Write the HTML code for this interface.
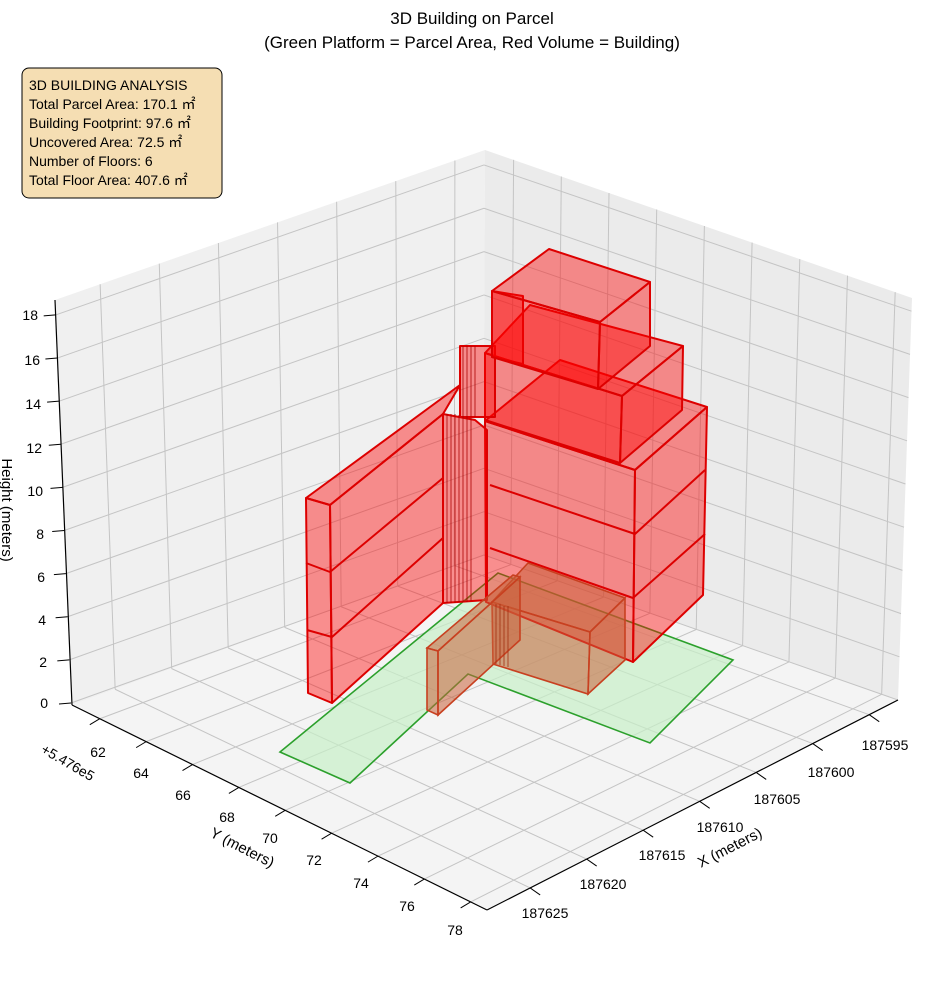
<!DOCTYPE html>
<html><head><meta charset="utf-8"><style>
html,body{margin:0;padding:0;background:#fff;}
svg{display:block;font-family:"Liberation Sans","Noto Sans CJK JP",sans-serif;}
</style></head><body>
<svg id="s" width="944" height="992" viewBox="0 0 944 992" xmlns="http://www.w3.org/2000/svg">
<text x="472" y="24" font-size="17" text-anchor="middle">3D Building on Parcel</text>
<text x="472" y="48" font-size="17" text-anchor="middle">(Green Platform = Parcel Area, Red Volume = Building)</text>
<polygon points="55,300 485,150 483,555 72,705" fill="#f0f0f0"/>
<polygon points="485,150 912,298 898,700 483,555" fill="#ebebeb"/>
<polygon points="72,705 483,555 898,700 487,910" fill="#f4f4f4"/>
<g id="grid" stroke="#c4c4c4" stroke-width="1" fill="none"></g>
<g stroke="#000" stroke-width="1.2" fill="none">
<line x1="55" y1="300" x2="72" y2="705"/>
<line x1="72" y1="705" x2="487" y2="910"/>
<line x1="487" y1="910" x2="898" y2="700"/>
</g>
<g id="ticks" stroke="#000" stroke-width="1"></g>
<g font-size="14" text-anchor="end">
<text x="48" y="708">0</text><text x="47" y="667">2</text><text x="46" y="625">4</text><text x="45" y="582">6</text><text x="44" y="539">8</text><text x="43" y="496">10</text><text x="42" y="453">12</text><text x="41" y="409">14</text><text x="40" y="365">16</text><text x="38" y="320">18</text>
</g>
<g font-size="14" text-anchor="middle">
<text x="98" y="757">62</text><text x="141" y="778">64</text><text x="183" y="800">66</text><text x="227" y="822">68</text><text x="270" y="843">70</text><text x="314" y="865">72</text><text x="361" y="888">74</text><text x="407" y="911">76</text><text x="455" y="935">78</text>
<text x="545" y="918">187625</text><text x="603" y="889">187620</text><text x="662" y="860">187615</text><text x="720" y="832">187610</text><text x="777" y="804">187605</text><text x="831" y="777">187600</text><text x="885" y="750">187595</text>
</g>
<text x="0" y="0" font-size="14" transform="translate(40,752) rotate(30)">+5.476e5</text>
<text x="0" y="0" font-size="15" text-anchor="middle" transform="translate(240,852) rotate(27)">Y (meters)</text>
<text x="0" y="0" font-size="15" text-anchor="middle" transform="translate(732,852) rotate(-27)">X (meters)</text>
<text x="0" y="0" font-size="15" text-anchor="middle" transform="translate(2,510) rotate(90)">Height (meters)</text>
<polygon points="280,752 498,573 733,660 650,743 468,674 350,783" fill="#c8f0c8" fill-opacity="0.7" stroke="#2ca02c" stroke-width="1.6"/>
<g fill="#ff0000" fill-opacity="0.42" stroke="#dd0000" stroke-width="2" stroke-linejoin="round">
<polygon points="485,421 560,360 707,407 635,470"/>
<polygon points="485,421 635,470 633,662 486,602"/>
<polygon points="635,470 707,407 703,595 633,662"/>
<polyline fill="none" points="490,485 635,534 705,470"/>
<polyline fill="none" points="490,548 633,598 705,534"/>
<polygon points="485,353 530,305 683,346 622,396"/>
<polygon points="485,353 622,396 620,463 485,420"/>
<polygon points="622,396 683,346 682,410 620,463"/>
<polygon points="460,346 495,346 495,417 460,417"/>
<polygon points="492,291 523,296 523,364 492,357"/>
<polygon points="492,291 549,249 650,282 600,322"/>
<polygon points="492,291 600,322 598,389 492,357"/>
<polygon points="600,322 650,282 650,346 598,389"/>
<polygon points="306,498 460,385 443,414 330,505"/>
<polygon points="330,505 443,414 443,603 332,703"/>
<polygon points="306,498 330,505 332,703 308,693"/>
<polyline fill="none" points="306,563 330,572 443,478"/>
<polyline fill="none" points="307,630 332,637 443,538"/>
<polygon points="443,414 475,420 487,430 487,600 443,603"/>
</g>
<g stroke="#aa0000" stroke-width="0.8">
<line x1="447" y1="414" x2="447" y2="603"/><line x1="451" y1="414" x2="451" y2="603"/><line x1="455" y1="414" x2="455" y2="603"/><line x1="459" y1="415" x2="459" y2="602"/><line x1="463" y1="416" x2="463" y2="602"/><line x1="467" y1="417" x2="467" y2="602"/><line x1="471" y1="418" x2="471" y2="601"/>
<line x1="463" y1="346" x2="463" y2="417"/><line x1="467" y1="346" x2="467" y2="417"/><line x1="471" y1="346" x2="471" y2="417"/><line x1="475" y1="346" x2="475" y2="417"/>
</g>
<g fill="#c8603a" fill-opacity="0.55" stroke="#c84020" stroke-width="1.6">
<polygon points="492,602 528,563 625,598 590,632"/>
<polygon points="492,602 590,632 588,694 493,664"/>
<polygon points="590,632 625,598 625,660 588,694"/>
<polygon points="427,648 513,575 520,577 438,651"/>
<polygon points="427,648 438,651 438,715 427,710"/>
<polygon points="438,651 520,577 520,640 438,715"/>
</g>
<g stroke="#a03010" stroke-width="0.8"><line x1="496" y1="604" x2="496" y2="664"/><line x1="500" y1="604" x2="500" y2="665"/><line x1="504" y1="606" x2="504" y2="666"/><line x1="508" y1="606" x2="508" y2="667"/></g>
<rect x="22" y="68" width="200" height="130" rx="7" fill="#f5deb3" stroke="#000" stroke-width="1"/>
<g font-size="14">
<text x="29" y="90">3D BUILDING ANALYSIS</text>
<text x="29" y="109">Total Parcel Area: 170.1 ㎡</text>
<text x="29" y="128">Building Footprint: 97.6 ㎡</text>
<text x="29" y="147">Uncovered Area: 72.5 ㎡</text>
<text x="29" y="166">Number of Floors: 6</text>
<text x="29" y="185">Total Floor Area: 407.6 ㎡</text>
</g>
</svg>
<script>
(function(){
var g=document.getElementById('grid'),t=document.getElementById('ticks');
function L(a,b,p){var e=document.createElementNS('http://www.w3.org/2000/svg','line');e.setAttribute('x1',a[0]);e.setAttribute('y1',a[1]);e.setAttribute('x2',b[0]);e.setAttribute('y2',b[1]);p.appendChild(e);}
function lp(a,b,f){return [a[0]+(b[0]-a[0])*f,a[1]+(b[1]-a[1])*f];}
var Lb=[72,705],Bb=[483,555],Rb=[898,700],Fb=[487,910],Lt=[55,300],Bt=[485,150],Rt=[912,298];
for(var k=0;k<=18;k+=2){
 var yl=703-21.56*k,xl=71-0.85*k,yb=555-21.67*k,yr=700-21.6*k,xr=898+0.75*k;
 L([xl,yl],[484,yb],g);L([484,yb],[xr,yr],g);
 L([xl-12,yl+1],[xl,yl],t);
}
for(var i=0;i<7;i++){var f=0.105+0.1375*i;
 L(lp(Lb,Bb,f),lp(Lt,Bt,f),g);L(lp(Fb,Rb,f),lp(Lb,Bb,f),g);
 var p=lp(Fb,Rb,f);L(p,[p[0]+10,p[1]+7],t);}
for(var j=0;j<9;j++){var f2=0.067+0.1117*j;
 L(lp(Bb,Rb,f2),lp(Bt,Rt,f2),g);L(lp(Lb,Fb,f2),lp(Bb,Rb,f2),g);
 var q=lp(Lb,Fb,f2);L(q,[q[0]-10,q[1]+6],t);}
})();
</script>
</body></html>
